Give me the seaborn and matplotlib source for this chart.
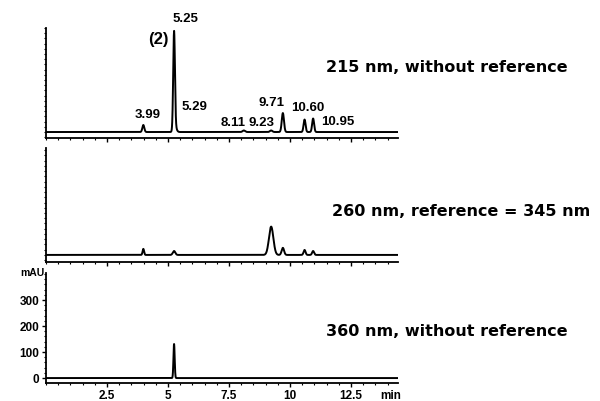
import numpy as np
import pandas as pd
import matplotlib
matplotlib.use("Agg")
import matplotlib.pyplot as plt
import seaborn as sns
from matplotlib.ticker import MultipleLocator

# ---- data ----
# 215 nm, without reference
rt_215 = [3.99, 5.25, 5.29, 8.11, 9.23, 9.71, 10.60, 10.95]
h_215 = [27, 373, 20, 6, 6, 73, 48, 52]
w_215 = [0.04, 0.035, 0.06, 0.05, 0.05, 0.045, 0.04, 0.04]
lab_215 = ["3.99", "5.25", "5.29", "8.11", "9.23", "9.71", "10.60", "10.95"]

# 260 nm, reference = 345 nm
rt_260 = [3.99, 5.25, 9.23, 9.71, 10.60, 10.95]
h_260 = [23, 15, 108, 27, 19, 15]
w_260 = [0.03, 0.05, 0.09, 0.05, 0.04, 0.04]

# 360 nm, without reference
rt_360 = [5.25]
h_360 = [131]
w_360 = [0.025]

panel_titles = ["215 nm, without reference",
                "260 nm, reference = 345 nm",
                "360 nm, without reference"]
x_ticks = [2.5, 5, 7.5, 10, 12.5]
x_ticklabels = ["2.5", "5", "7.5", "10", "12.5"]
y_ticks = [0, 100, 200, 300]

t = np.linspace(0, 14.43, 4000)


def trace(rts, hs, ws):
    y = np.zeros_like(t)
    for r, h, w in zip(rts, hs, ws):
        y += h * np.exp(-0.5 * ((t - r) / w) ** 2)
    return pd.DataFrame({"min": t, "mAU": y})


sns.set_theme(style="ticks")
plt.rcParams["font.family"] = ["Liberation Sans", "DejaVu Sans"]
plt.rcParams["text.color"] = "black"
plt.rcParams["xtick.color"] = "black"
plt.rcParams["ytick.color"] = "black"
plt.rcParams["axes.labelcolor"] = "black"

fig = plt.figure(figsize=(6.0, 4.01), dpi=100)
W, H = 600, 401


def axes_px(x0, y0, x1, y1):
    return fig.add_axes([x0 / W, 1 - y1 / H, (x1 - x0) / W, (y1 - y0) / H])


ax1 = axes_px(46, 28, 398, 138)
ax2 = axes_px(46, 148, 398, 262)
ax3 = axes_px(46, 273, 398, 383)

data = [trace(rt_215, h_215, w_215),
        trace(rt_260, h_260, w_260),
        trace(rt_360, h_360, w_360)]
ylims = [(-23, 400), (-27, 408), (-19, 404)]
title_y = [67, 211, 332]
title_right = [568, 590, 568]

for ax, df, yl, ty, tr, title in zip([ax1, ax2, ax3], data, ylims, title_y,
                                     title_right, panel_titles):
    sns.lineplot(data=df, x="min", y="mAU", ax=ax, color="black", linewidth=1.4)
    ax.set_xlim(0, 14.43)
    ax.set_ylim(*yl)
    sns.despine(ax=ax)
    for s in ["left", "bottom"]:
        ax.spines[s].set_linewidth(1.3)
        ax.spines[s].set_color("black")
    ax.set_xlabel("")
    ax.set_ylabel("")
    ax.set_xticks(x_ticks)
    ax.xaxis.set_minor_locator(MultipleLocator(0.5))
    ax.yaxis.set_minor_locator(MultipleLocator(20))
    ax.tick_params(axis="both", which="major", length=3, width=1, color="black",
                   labelcolor="black", labelsize=8.5, pad=2)
    ax.tick_params(axis="both", which="minor", length=1.5, width=0.8, color="black")
    fig.text(tr / W, 1 - ty / H, title, ha="right", va="center", color="black",
             fontsize=11.5, fontweight="bold", family="DejaVu Sans")

for ax in [ax1, ax2]:
    ax.set_xticklabels([])
    ax.set_yticks([])
    ax.yaxis.set_minor_locator(MultipleLocator(20))

ax3.set_xticklabels(x_ticklabels, fontweight="bold")
ax3.set_yticks(y_ticks)
ax3.set_yticklabels([str(v) for v in y_ticks], fontweight="bold")
ax3.text(1.01, -0.065, "min", transform=ax3.transAxes, ha="right", va="top",
         fontsize=8.5, fontweight="bold", color="black")
ax3.text(-0.005, 1.0, "mAU", transform=ax3.transAxes, ha="right", va="center",
         fontsize=7.5, fontweight="bold", color="black")

# peak labels for 215 nm trace
lab_x = [4.18, 5.70, 6.10, 7.66, 8.85, 9.26, 10.74, 11.97]
lab_y = [65, 435, 96, 35, 35, 112, 92, 38]
for lx, ly, s in zip(lab_x, lab_y, lab_215):
    ax1.text(lx, ly, s, ha="center", va="center", fontsize=9.5, fontweight="bold",
             color="black", clip_on=False)
ax1.text(4.59, 354, "(2)", ha="center", va="center", fontsize=12,
         fontweight="bold", color="black", clip_on=False)

fig.savefig("out.png", dpi=100)
